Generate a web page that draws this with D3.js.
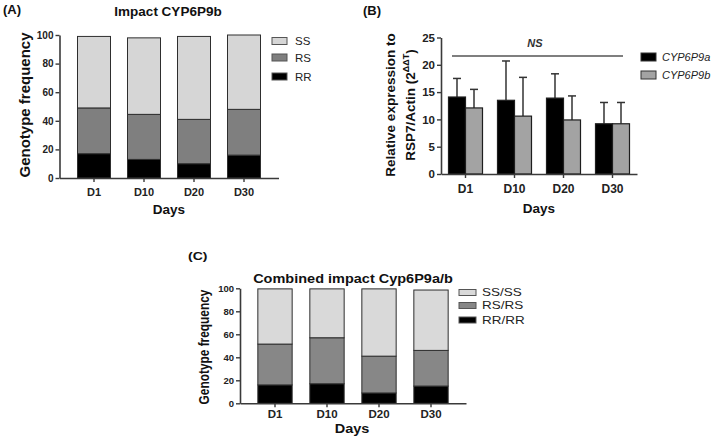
<!DOCTYPE html>
<html><head><meta charset="utf-8">
<script src="https://cdn.jsdelivr.net/npm/d3@7"></script>
<style>
html,body{margin:0;padding:0;background:#fff;}
svg{display:block;font-family:"Liberation Sans",Arial,sans-serif;}
</style></head>
<body>
<svg id="chart" width="713" height="439"></svg>
<script>
// ---------- data ----------
const days = ["D1", "D10", "D20", "D30"];
const genoTicks = [0, 20, 40, 60, 80, 100];
const exprTicks = [0, 5, 10, 15, 20, 25];

// (A) Impact CYP6P9b
const aRR = [17, 13, 10, 16];
const aRS = [32, 31.5, 31, 32];
const aSS = [50, 53.5, 58, 52];
const aKeys = ["SS", "RS", "RR"];

// (B) relative expression
const bSeries = ["CYP6P9a", "CYP6P9b"];
const bCyp9a = [14.1, 13.5, 13.9, 9.2];
const bCyp9aErr = [3.4, 7.2, 4.45, 3.9];
const bCyp9b = [12.1, 10.6, 9.9, 9.2];
const bCyp9bErr = [3.4, 7.1, 4.4, 3.9];

// (C) Combined impact Cyp6P9a/b
const cRR = [16, 17, 9, 15];
const cRS = [35.5, 40, 32, 31];
const cSS = [48, 42.5, 58.5, 52.5];
const cKeys = ["SS/SS", "RS/RS", "RR/RR"];

// ---------- drawing ----------
const svg = d3.select("#chart");
const axisCol = "#3a3a3a";
const barStroke = "#2e2e2e";

function styleAxis(g, fs) {
  g.select(".domain").attr("stroke", axisCol).attr("stroke-width", 1.6);
  g.selectAll(".tick line").attr("stroke", axisCol).attr("stroke-width", 1.4);
  g.selectAll(".tick text").attr("fill", "#222").attr("font-weight", "bold")
    .attr("font-size", fs).attr("font-family", '"Liberation Sans",Arial,sans-serif');
}

function txt(x, y, s, opt) {
  opt = opt || {};
  const sq = opt.squish || 1;
  const rot = opt.rotate ? ` rotate(${opt.rotate})` : "";
  return svg.append("text")
    .attr("transform", `translate(${x},${y}) scale(1,${sq})${rot}`)
    .attr("text-anchor", opt.anchor || "start")
    .attr("font-size", opt.size || 12)
    .attr("font-weight", opt.weight || "normal")
    .attr("font-style", opt.style || "normal")
    .attr("fill", opt.fill || "#111")
    .text(s);
}

function stackedPanel(cfg) {
  const x = d3.scaleBand().domain(days).range(cfg.xr)
    .paddingInner(0.34).paddingOuter(cfg.po);
  const y = d3.scaleLinear().domain([0, 100]).range(cfg.yr);
  const rows = days.map((d, i) => ({ day: d, RR: cfg.rr[i], RS: cfg.rs[i], SS: cfg.ss[i] }));
  const stack = d3.stack().keys(["RR", "RS", "SS"])(rows);
  const fills = { RR: "#000000", RS: cfg.rsCol, SS: cfg.ssCol };
  stack.forEach(layer => {
    svg.append("g").selectAll("rect").data(layer).join("rect")
      .attr("x", d => x(d.data.day))
      .attr("width", x.bandwidth())
      .attr("y", d => y(d[1]))
      .attr("height", d => y(d[0]) - y(d[1]))
      .attr("fill", fills[layer.key])
      .attr("stroke", barStroke).attr("stroke-width", 1);
  });
  const ya = svg.append("g").attr("transform", `translate(${cfg.xr[0]},0)`)
    .call(d3.axisLeft(y).tickValues(genoTicks).tickSize(4).tickSizeOuter(0).tickPadding(2));
  styleAxis(ya, cfg.yfs);
  const xa = svg.append("g").attr("transform", `translate(0,${cfg.yr[0]})`)
    .call(d3.axisBottom(x).tickSize(4).tickSizeOuter(0).tickPadding(cfg.xpad));
  styleAxis(xa, cfg.xfs);
  // legend
  const lkeys = cfg.keys;
  const lfill = [cfg.ssCol, cfg.rsCol, "#000000"];
  lkeys.forEach((k, i) => {
    svg.append("rect").attr("x", cfg.lx).attr("y", cfg.ly[i])
      .attr("width", cfg.lw).attr("height", cfg.lh)
      .attr("fill", lfill[i]).attr("stroke", "#555").attr("stroke-width", 1);
    txt(cfg.lx + cfg.lw + cfg.lgap, cfg.ltb[i], k, { size: cfg.lfs, squish: cfg.squish, fill: "#222" });
  });
  return { x, y };
}

// ===== Panel A =====
txt(3, 14, "(A)", { size: 13, weight: "bold" });
txt(168, 16, "Impact CYP6P9b", { size: 13.5, weight: "bold", anchor: "middle" });
stackedPanel({
  xr: [59.5, 278.5], po: 0.36, yr: [178, 35],
  rr: aRR, rs: aRS, ss: aSS, keys: aKeys,
  rsCol: "#7f7f7f", ssCol: "#d6d6d6",
  yfs: 10, xfs: 11, xpad: 6,
  lx: 272, ly: [37.5, 54, 73], lw: 15, lh: 7, lgap: 8, ltb: [45, 62, 81], lfs: 11.5, squish: 1
});
txt(29.5, 105, "Genotype frequency", { size: 15, weight: "bold", anchor: "middle", rotate: -90 });
txt(169, 214, "Days", { size: 13.5, weight: "bold", anchor: "middle" });

// ===== Panel B =====
txt(363, 15, "(B)", { size: 13, weight: "bold" });
{
  const x = d3.scaleBand().domain(days).range([441, 637]).paddingInner(0.306).paddingOuter(0.153);
  const xs = d3.scaleBand().domain(bSeries).range([0, x.bandwidth()]).padding(0);
  const y = d3.scaleLinear().domain([0, 25]).range([174, 37.5]);
  const vals = { CYP6P9a: bCyp9a, CYP6P9b: bCyp9b };
  const errs = { CYP6P9a: bCyp9aErr, CYP6P9b: bCyp9bErr };
  const cols = { CYP6P9a: "#000000", CYP6P9b: "#a3a3a3" };
  const rows = [];
  days.forEach((d, i) => bSeries.forEach(s => rows.push({ day: d, s, v: vals[s][i], e: errs[s][i] })));
  // error bars (upper only)
  const eg = svg.append("g");
  rows.forEach(r => {
    const cx = x(r.day) + xs(r.s) + xs.bandwidth() / 2;
    eg.append("line").attr("x1", cx).attr("x2", cx).attr("y1", y(r.v)).attr("y2", y(r.v + r.e))
      .attr("stroke", "#333").attr("stroke-width", 1.5);
    eg.append("line").attr("x1", cx - 4).attr("x2", cx + 4).attr("y1", y(r.v + r.e)).attr("y2", y(r.v + r.e))
      .attr("stroke", "#333").attr("stroke-width", 1.5);
  });
  svg.append("g").selectAll("rect").data(rows).join("rect")
    .attr("x", d => x(d.day) + xs(d.s))
    .attr("width", xs.bandwidth())
    .attr("y", d => y(d.v))
    .attr("height", d => y(0) - y(d.v))
    .attr("fill", d => cols[d.s])
    .attr("stroke", "#1e1e1e").attr("stroke-width", 1.2);
  const ya = svg.append("g").attr("transform", "translate(441,0)")
    .call(d3.axisLeft(y).tickValues(exprTicks).tickSize(4).tickSizeOuter(0).tickPadding(2));
  styleAxis(ya, 11.5);
  const xa = svg.append("g").attr("transform", "translate(0,174)")
    .call(d3.axisBottom(x).tickSize(4).tickSizeOuter(0).tickPadding(6));
  styleAxis(xa, 12);
  // NS line
  svg.append("line").attr("x1", 452).attr("x2", 623).attr("y1", 56).attr("y2", 56)
    .attr("stroke", "#555").attr("stroke-width", 1.6);
  txt(535, 47, "NS", { size: 11, weight: "bold", style: "italic", anchor: "middle", fill: "#333" });
  // legend
  bSeries.forEach((s, i) => {
    svg.append("rect").attr("x", 641).attr("y", 53 + i * 18).attr("width", 15).attr("height", 8)
      .attr("fill", cols[s]).attr("stroke", "#333").attr("stroke-width", 1);
    txt(662, 61 + i * 18, s, { size: 11, style: "italic", fill: "#222" });
  });
  // y label
  txt(395, 105, "Relative expression to", { size: 13.5, weight: "bold", anchor: "middle", rotate: -90 });
  const t2 = txt(415, 105, "", { size: 13.5, weight: "bold", anchor: "middle", rotate: -90 });
  t2.append("tspan").text("RSP7/Actin (2");
  t2.append("tspan").attr("dy", -6).attr("font-size", 9).text("ΔΔT");
  t2.append("tspan").attr("dy", 6).text(")");
  txt(539, 213, "Days", { size: 13.5, weight: "bold", anchor: "middle" });
}

// ===== Panel C =====
const sq = 0.82;
txt(188, 260, "(C)", { size: 14, weight: "bold", squish: sq });
txt(353, 283, "Combined impact Cyp6P9a/b", { size: 14.5, weight: "bold", anchor: "middle", squish: sq });
stackedPanel({
  xr: [240, 466], po: 0.343, yr: [403.3, 288.3],
  rr: cRR, rs: cRS, ss: cSS, keys: cKeys,
  rsCol: "#878787", ssCol: "#d9d9d9",
  yfs: 9.5, xfs: 11.5, xpad: 3,
  lx: 459, ly: [289.5, 302.5, 317], lw: 17, lh: 6, lgap: 6, ltb: [296, 309, 324], lfs: 13.5, squish: sq
});
txt(209, 347, "Genotype frequency", { size: 14.5, weight: "bold", anchor: "middle", rotate: -90, squish: sq });
txt(352, 433, "Days", { size: 14.5, weight: "bold", anchor: "middle", squish: sq });
</script>
</body></html>
